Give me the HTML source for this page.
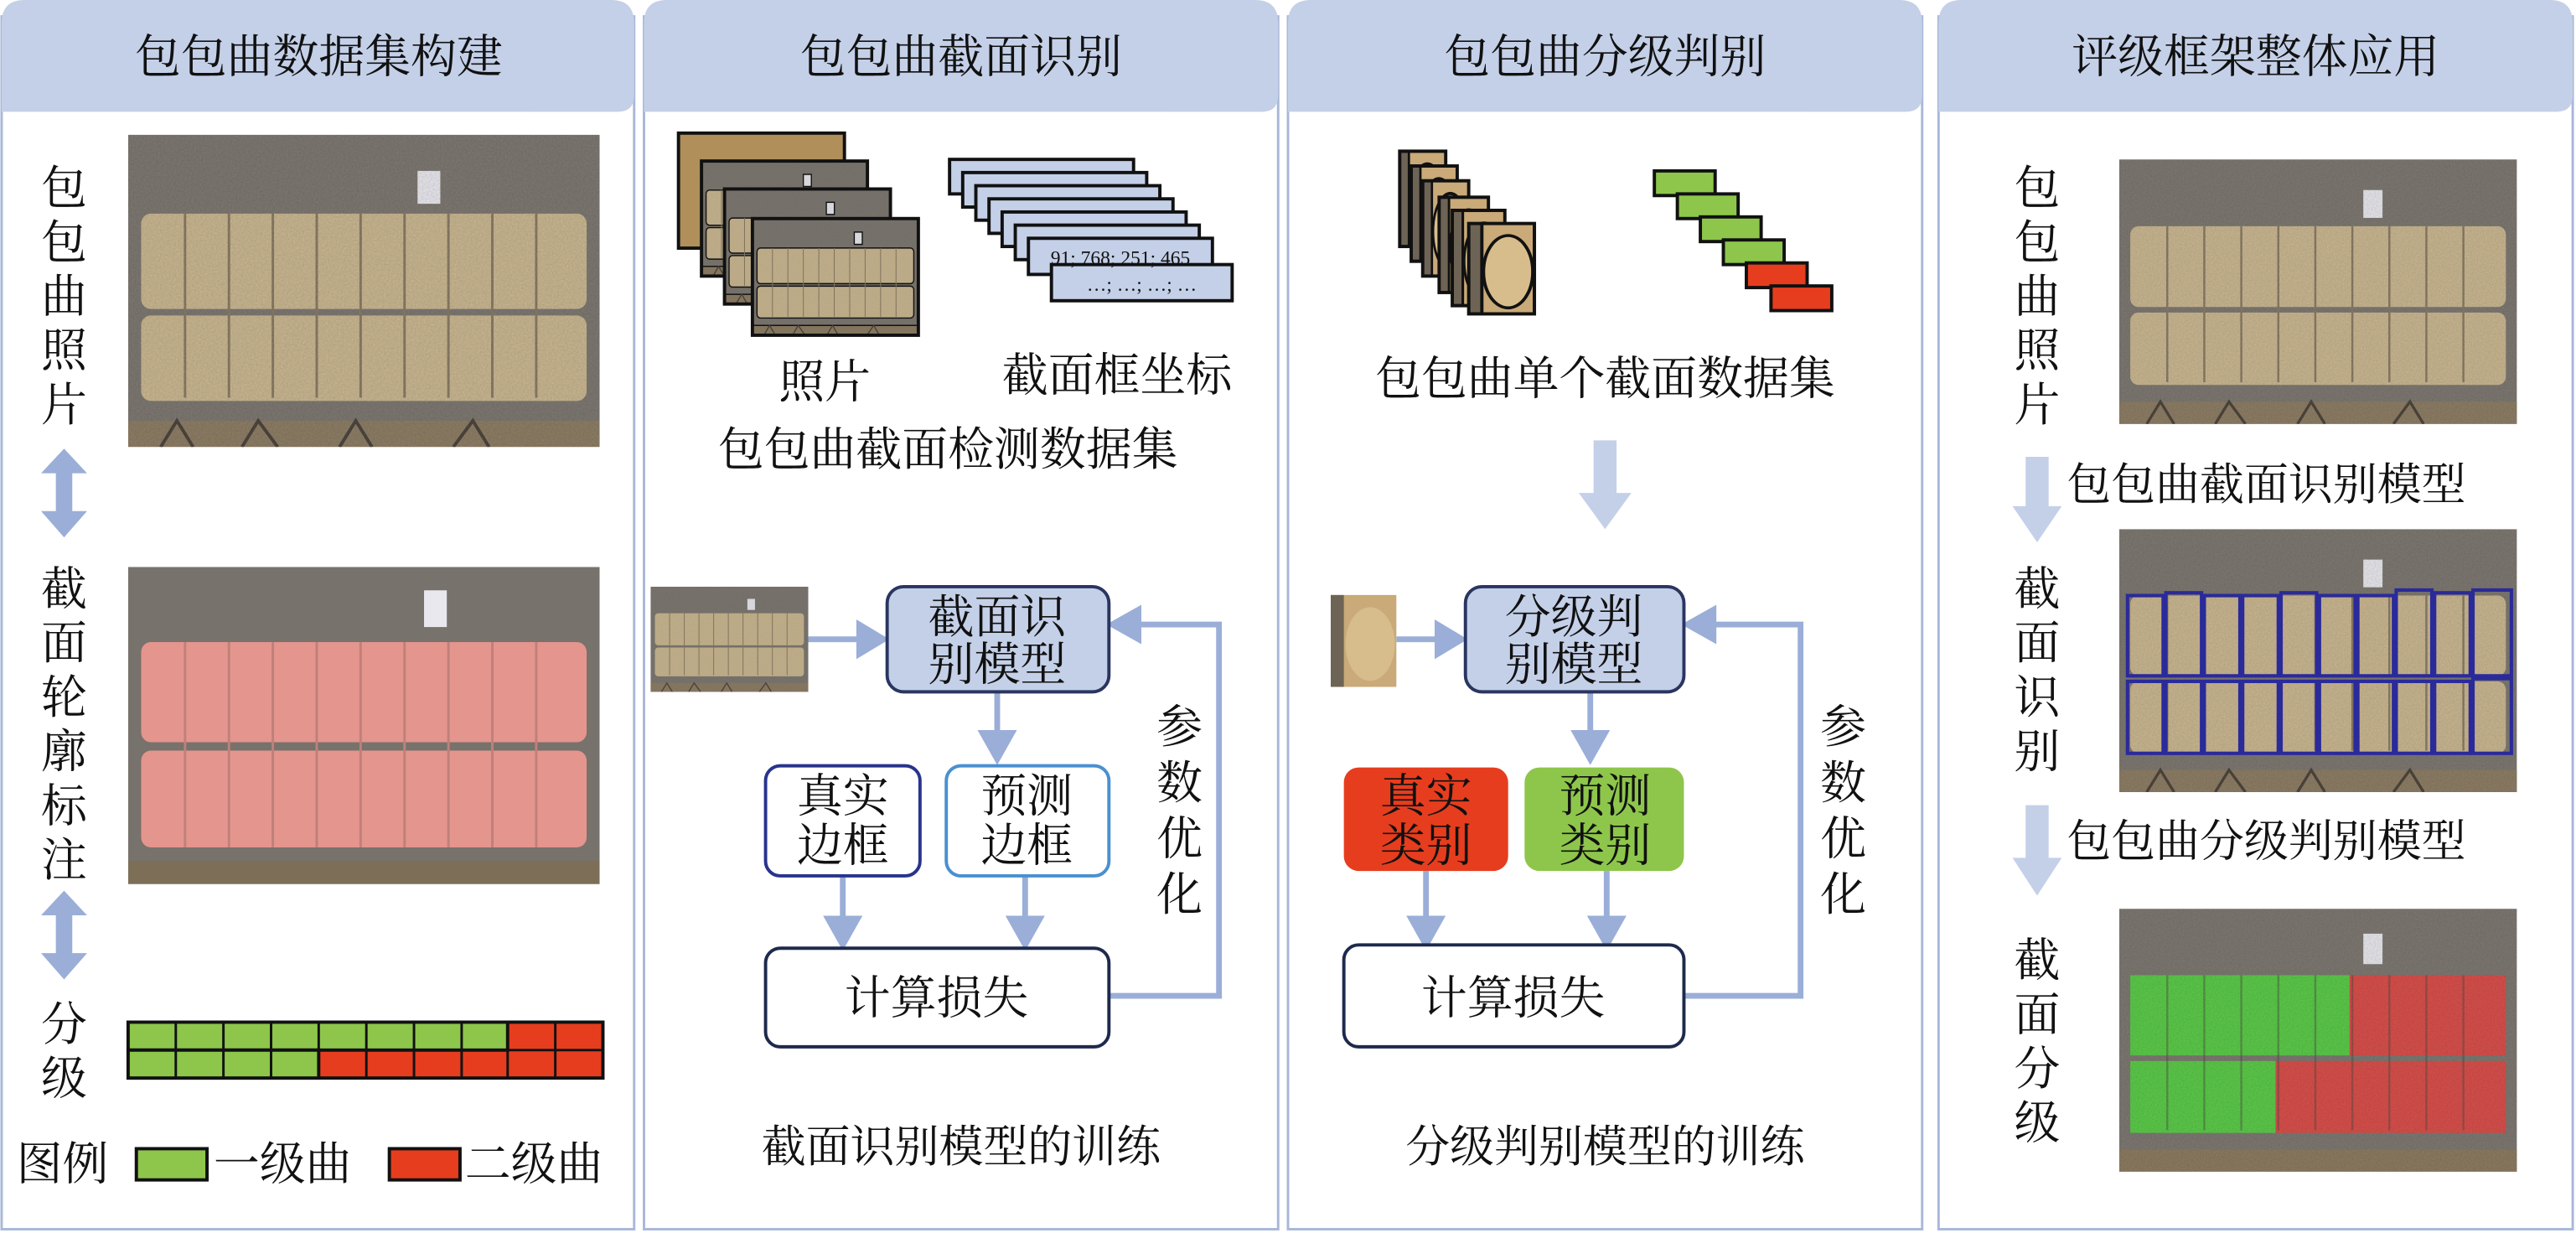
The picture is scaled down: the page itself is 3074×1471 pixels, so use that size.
<!DOCTYPE html>
<html><head><meta charset="utf-8"><style>
html,body{margin:0;padding:0;background:#fff;}
svg{display:block;}
text{font-family:"Liberation Serif","Noto Serif CJK SC",serif;fill:#111;}
</style></head><body>
<svg width="3074" height="1471" viewBox="0 0 1568 750.3" preserveAspectRatio="none" xmlns="http://www.w3.org/2000/svg">
<defs>
<filter id="noise" x="0" y="0" width="100%" height="100%">
 <feTurbulence type="fractalNoise" baseFrequency="0.9" numOctaves="2" result="n"/>
 <feColorMatrix type="matrix" values="0 0 0 0 0  0 0 0 0 0  0 0 0 0 0  0 0 0 0.15 0" in="n"/>
 <feComposite operator="in" in2="SourceGraphic"/>
</filter>
<symbol id="ph" viewBox="0 0 290 190" preserveAspectRatio="none">
 <rect width="290" height="190" fill="#7e7972"/>
 <rect x="178" y="22" width="14" height="20" fill="#e8e8ee"/>
 <g fill="#cbb892">
  <rect x="8" y="48" width="274" height="58" rx="6"/>
  <rect x="8" y="110" width="274" height="52" rx="6"/>
 </g>
 <g stroke="#8a7c66" stroke-width="1.5">
  <path d="M35 48V160M62 48V160M89 48V160M116 48V160M143 48V160M170 48V160M197 48V160M224 48V160M251 48V160"/>
 </g>
 <rect x="0" y="174" width="290" height="16" fill="#8e7e66"/>
 <path d="M20 190L30 174L40 190M70 190L80 174L92 190M130 190L140 174L150 190M200 190L212 174L222 190" stroke="#4e463e" stroke-width="2" fill="none"/>
 <rect width="290" height="190" fill="#000" filter="url(#noise)"/>
</symbol>
<symbol id="phPink" viewBox="0 0 290 190" preserveAspectRatio="none">
 <rect width="290" height="190" fill="#77726b"/>
 <rect x="182" y="14" width="14" height="22" fill="#e8e8ee"/>
 <g fill="#e4958d">
  <rect x="8" y="45" width="274" height="60" rx="6"/>
  <rect x="8" y="110" width="274" height="58" rx="6"/>
 </g>
 <path d="M35 45V168M62 45V168M89 45V168M116 45V168M143 45V168M170 45V168M197 45V168M224 45V168M251 45V168" stroke="#c0807a" stroke-width="1.5"/>
 <rect x="0" y="176" width="290" height="14" fill="#7d6e58"/>
</symbol>
<symbol id="phBox" viewBox="0 0 290 190" preserveAspectRatio="none">
 <use href="#ph" width="290" height="190"/>
 <g fill="none" stroke="#2a2a9a" stroke-width="2.5">
  <rect x="6" y="48" width="26" height="58"/><rect x="34" y="46" width="26" height="60"/><rect x="62" y="48" width="26" height="58"/>
  <rect x="90" y="48" width="26" height="58"/><rect x="118" y="46" width="26" height="60"/><rect x="146" y="48" width="26" height="58"/>
  <rect x="174" y="48" width="26" height="58"/><rect x="202" y="44" width="26" height="62"/><rect x="230" y="46" width="26" height="60"/><rect x="258" y="44" width="28" height="62"/>
  <rect x="6" y="110" width="26" height="52"/><rect x="34" y="110" width="26" height="52"/><rect x="62" y="110" width="26" height="52"/>
  <rect x="90" y="110" width="26" height="52"/><rect x="118" y="110" width="26" height="52"/><rect x="146" y="110" width="26" height="52"/>
  <rect x="174" y="110" width="26" height="52"/><rect x="202" y="110" width="26" height="52"/><rect x="230" y="110" width="26" height="52"/><rect x="258" y="108" width="28" height="54"/>
 </g>
</symbol>
<symbol id="phGrade" viewBox="0 0 290 190" preserveAspectRatio="none">
 <rect width="290" height="190" fill="#7e7972"/>
 <rect x="178" y="18" width="14" height="22" fill="#e8e8ee"/>
 <rect x="8" y="48" width="160" height="58" fill="#5ccb4a"/>
 <rect x="168" y="48" width="114" height="58" fill="#d9504c"/>
 <rect x="8" y="110" width="106" height="52" fill="#5ccb4a"/>
 <rect x="114" y="110" width="168" height="52" fill="#d9504c"/>
 <path d="M35 48V160M62 48V160M89 48V160M116 48V160M143 48V160M170 48V160M197 48V160M224 48V160M251 48V160" stroke="#4a4a40" stroke-width="1.5" opacity=".4"/>
 <rect x="0" y="174" width="290" height="16" fill="#8d7c62"/>
 <rect width="290" height="190" fill="#000" filter="url(#noise)"/>
</symbol>
<symbol id="slice" viewBox="0 0 40 60" preserveAspectRatio="none">
 <rect width="40" height="60" fill="#c9aa78"/>
 <rect x="0" y="0" width="8" height="60" fill="#6e6456"/>
 <ellipse cx="24" cy="32" rx="15" ry="24" fill="#d8bd8c"/>
</symbol>
</defs>

<g fill="none" stroke="#a9b8d8" stroke-width="1.5">
 <rect x="1" y="10" width="385" height="738"/>
 <rect x="392" y="10" width="386" height="738"/>
 <rect x="784" y="10" width="386" height="738"/>
 <rect x="1180" y="10" width="386" height="738"/>
</g>
<g fill="#c4d0e8">
 <path d="M1 68V14Q1 0 15 0H372Q386 0 386 14V58Q386 68 376 68Z"/>
 <path d="M392 68V14Q392 0 406 0H764Q778 0 778 14V58Q778 68 768 68Z"/>
 <path d="M784 68V14Q784 0 798 0H1156Q1170 0 1170 14V58Q1170 68 1160 68Z"/>
 <path d="M1180 68V14Q1180 0 1194 0H1552Q1566 0 1566 14V58Q1566 68 1556 68Z"/>
</g>
<g font-size="28" text-anchor="middle">
 <text x="194" y="44">包包曲数据集构建</text>
 <text x="585" y="44">包包曲截面识别</text>
 <text x="977" y="44">包包曲分级判别</text>
 <text x="1373" y="44">评级框架整体应用</text>
</g>

<g font-size="28" text-anchor="middle">
 <text x="39"><tspan x="39" y="124">包</tspan><tspan x="39" y="157">包</tspan><tspan x="39" y="190">曲</tspan><tspan x="39" y="223">照</tspan><tspan x="39" y="256">片</tspan></text>
 <text x="39"><tspan x="39" y="368">截</tspan><tspan x="39" y="401">面</tspan><tspan x="39" y="434">轮</tspan><tspan x="39" y="467">廓</tspan><tspan x="39" y="500">标</tspan><tspan x="39" y="533">注</tspan></text>
 <text x="39"><tspan x="39" y="633">分</tspan><tspan x="39" y="666">级</tspan></text>
</g>
<use href="#ph" x="78" y="82" width="287" height="190"/>
<use href="#phPink" x="78" y="345" width="287" height="193"/>
<g fill="#9aaed8">
 <path d="M39 273L53 288H44V311H53L39 327L25 311H34V288H25Z"/>
 <path d="M39 542L53 557H44V580H53L39 596L25 580H34V557H25Z"/>
</g>
<g stroke="#111" stroke-width="2">
 <rect x="78" y="622" width="289" height="34" fill="#e63d1e"/>
 <rect x="78" y="622" width="231" height="17" fill="#8dc64b"/>
 <rect x="78" y="639" width="116" height="17" fill="#8dc64b"/>
 <path d="M78 639H367M107 622V656M136 622V656M165 622V656M194 622V656M223 622V656M252 622V656M281 622V656M309 622V656M338 622V656" stroke-width="1.5"/>
 <rect x="83" y="699" width="43" height="19" fill="#8dc64b"/>
 <rect x="237" y="699" width="43" height="19" fill="#e63d1e"/>
</g>
<g font-size="28">
 <text x="10" y="718">图例</text>
 <text x="130" y="718">一级曲</text>
 <text x="283" y="718">二级曲</text>
</g>

<g stroke="#111" stroke-width="2">
 <rect x="413" y="81" width="101" height="70" fill="#b08f5a"/>
 <use href="#ph" x="427" y="98" width="101" height="70"/><rect x="427" y="98" width="101" height="70" fill="none"/>
 <use href="#ph" x="441" y="115" width="101" height="70"/><rect x="441" y="115" width="101" height="70" fill="none"/>
 <use href="#ph" x="458" y="133" width="101" height="71"/><rect x="458" y="133" width="101" height="71" fill="none"/>
</g>
<g fill="#c4d0e8" stroke="#111" stroke-width="2">
 <rect x="578" y="97" width="112" height="21"/>
 <rect x="586" y="105" width="112" height="21"/>
 <rect x="594" y="113" width="112" height="21"/>
 <rect x="602" y="121" width="112" height="21"/>
 <rect x="610" y="129" width="112" height="21"/>
 <rect x="618" y="137" width="112" height="21"/>
 <rect x="626" y="145" width="112" height="22"/>
 <rect x="640" y="161" width="110" height="22"/>
</g>
<text x="682" y="161" font-size="12" text-anchor="middle">91;  768;  251;  465</text>
<text x="695" y="177" font-size="12" text-anchor="middle">…;   …;   …;   …</text>
<g font-size="28" text-anchor="middle">
 <text x="502" y="242">照片</text>
 <text x="680" y="238">截面框坐标</text>
 <text x="577" y="283">包包曲截面检测数据集</text>
</g>
<use href="#ph" x="396" y="357" width="96" height="64"/>
<g fill="#9aaed8" stroke="#9aaed8" stroke-width="3.5">
 <path d="M492 389H525" fill="none"/><path d="M538 389L523 380V398Z"/>
 <path d="M607 421V448" fill="none"/><path d="M607 462L598 446H616Z"/>
 <path d="M513 532V560" fill="none"/><path d="M513 575L504 559H522Z"/>
 <path d="M624 532V560" fill="none"/><path d="M624 575L615 559H633Z"/>
 <path d="M675 606H742V380H692" fill="none"/><path d="M677 380L693 371V389Z"/>
</g>
<rect x="540" y="357" width="135" height="64" rx="10" fill="#c4d0e8" stroke="#2a3560" stroke-width="2"/>
<rect x="466" y="466" width="94" height="67" rx="9" fill="#fff" stroke="#28348c" stroke-width="2"/>
<rect x="576" y="466" width="99" height="67" rx="9" fill="#fff" stroke="#4a90d0" stroke-width="2"/>
<rect x="466" y="577" width="209" height="60" rx="9" fill="#fff" stroke="#1e2a4c" stroke-width="2"/>
<g font-size="28" text-anchor="middle">
 <text x="607" y="385">截面识</text><text x="607" y="414">别模型</text>
 <text x="513" y="494">真实</text><text x="513" y="524">边框</text>
 <text x="625" y="494">预测</text><text x="625" y="524">边框</text>
 <text x="570" y="617">计算损失</text>
 <text x="718"><tspan x="718" y="452">参</tspan><tspan x="718" y="486">数</tspan><tspan x="718" y="520">优</tspan><tspan x="718" y="554">化</tspan></text>
 <text x="585" y="707" font-size="27">截面识别模型的训练</text>
</g>

<g stroke="#111" stroke-width="2">
 <use href="#slice" x="852" y="92" width="28" height="58"/><rect x="852" y="92" width="28" height="58" fill="none"/>
 <use href="#slice" x="859" y="101" width="28" height="58"/><rect x="859" y="101" width="28" height="58" fill="none"/>
 <use href="#slice" x="866" y="110" width="28" height="58"/><rect x="866" y="110" width="28" height="58" fill="none"/>
 <use href="#slice" x="876" y="120" width="30" height="58"/><rect x="876" y="120" width="30" height="58" fill="none"/>
 <use href="#slice" x="884" y="128" width="32" height="58"/><rect x="884" y="128" width="32" height="58" fill="none"/>
 <use href="#slice" x="894" y="136" width="40" height="55"/><rect x="894" y="136" width="40" height="55" fill="none"/>
</g>
<g stroke="#111" stroke-width="2">
 <rect x="1007" y="104" width="37" height="15" fill="#8dc64b"/>
 <rect x="1021" y="118" width="37" height="15" fill="#8dc64b"/>
 <rect x="1035" y="132" width="37" height="15" fill="#8dc64b"/>
 <rect x="1049" y="146" width="37" height="15" fill="#8dc64b"/>
 <rect x="1063" y="160" width="37" height="15" fill="#e63d1e"/>
 <rect x="1078" y="174" width="37" height="15" fill="#e63d1e"/>
</g>
<text x="977" y="240" font-size="28" text-anchor="middle">包包曲单个截面数据集</text>
<path d="M970 268H984V300H993L977 322L961 300H970Z" fill="#c4d0e8"/>
<use href="#slice" x="810" y="362" width="40" height="56"/>
<g fill="#9aaed8" stroke="#9aaed8" stroke-width="3.5">
 <path d="M850 389H877" fill="none"/><path d="M890 389L875 380V398Z"/>
 <path d="M968 421V448" fill="none"/><path d="M968 462L959 446H977Z"/>
 <path d="M868 530V560" fill="none"/><path d="M868 575L859 559H877Z"/>
 <path d="M978 530V560" fill="none"/><path d="M978 575L969 559H987Z"/>
 <path d="M1025 606H1096V380H1042" fill="none"/><path d="M1027 380L1043 371V389Z"/>
</g>
<rect x="892" y="357" width="133" height="64" rx="10" fill="#c4d0e8" stroke="#2a3560" stroke-width="2"/>
<rect x="818" y="467" width="100" height="63" rx="9" fill="#e63d1e"/>
<rect x="928" y="467" width="97" height="63" rx="9" fill="#8dc64b"/>
<rect x="818" y="575" width="207" height="62" rx="9" fill="#fff" stroke="#1e2a4c" stroke-width="2"/>
<g font-size="28" text-anchor="middle">
 <text x="958" y="385">分级判</text><text x="958" y="414">别模型</text>
 <text x="868" y="494">真实</text><text x="868" y="524">类别</text>
 <text x="977" y="494">预测</text><text x="977" y="524">类别</text>
 <text x="921" y="617">计算损失</text>
 <text x="1122"><tspan x="1122" y="452">参</tspan><tspan x="1122" y="486">数</tspan><tspan x="1122" y="520">优</tspan><tspan x="1122" y="554">化</tspan></text>
 <text x="977" y="707" font-size="27">分级判别模型的训练</text>
</g>

<g font-size="28" text-anchor="middle">
 <text x="1240"><tspan x="1240" y="124">包</tspan><tspan x="1240" y="157">包</tspan><tspan x="1240" y="190">曲</tspan><tspan x="1240" y="223">照</tspan><tspan x="1240" y="256">片</tspan></text>
 <text x="1240"><tspan x="1240" y="368">截</tspan><tspan x="1240" y="401">面</tspan><tspan x="1240" y="434">识</tspan><tspan x="1240" y="467">别</tspan></text>
 <text x="1240"><tspan x="1240" y="594">截</tspan><tspan x="1240" y="627">面</tspan><tspan x="1240" y="660">分</tspan><tspan x="1240" y="693">级</tspan></text>
</g>
<use href="#ph" x="1290" y="97" width="242" height="161"/>
<use href="#phBox" x="1290" y="322" width="242" height="160"/>
<use href="#phGrade" x="1290" y="553" width="242" height="160"/>
<g fill="#c4d0e8">
 <path d="M1233 278H1247V308H1255L1240 330L1225 308H1233Z"/>
 <path d="M1233 490H1247V522H1255L1240 545L1225 522H1233Z"/>
</g>
<g font-size="27">
 <text x="1258" y="304">包包曲截面识别模型</text>
 <text x="1258" y="521">包包曲分级判别模型</text>
</g>
</svg>
</body></html>
